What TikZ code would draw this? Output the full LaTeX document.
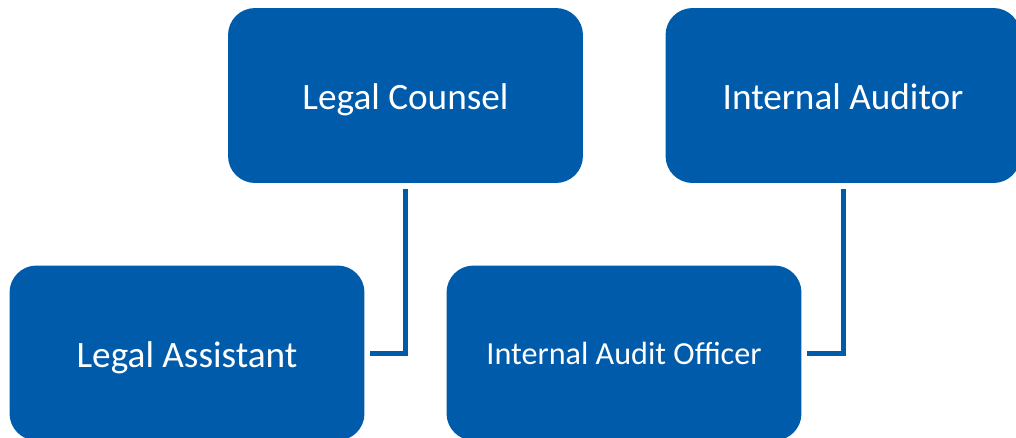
\documentclass[tikz,border=0pt]{standalone}
\usepackage{fontspec}
\setmainfont{Carlito}
\definecolor{boxblue}{RGB}{0,91,170}
\begin{document}
\begin{tikzpicture}[x=0.02cm,y=-0.02cm,
    role/.style={fill=boxblue,rounded corners=0.54cm,text=white,inner sep=0pt,
      minimum width=7.1cm,minimum height=3.5cm,font=\fontsize{21.2}{25}\selectfont,
      text height=16.4pt,text depth=0pt},
    small/.style={font=\fontsize{18.3}{22}\selectfont,text height=13.6pt},
    link/.style={draw=boxblue,line width=0.1cm,shorten <=3.5pt,shorten >=3pt}]
      \useasboundingbox (0,0) rectangle (1016,437);
      \clip (0,0) rectangle (1016,437);
      \draw
        (405.5,95.5) node[role] (lc){Legal Counsel}
        (843,95.5) node[role] (ia){Internal Auditor}
        (187,353) node[role] (la){Legal Assistant}
        (624,353) node[role,small] (iao){Internal Audit Officer};
      \begin{scope}[-]
        \draw[link] (lc.south) |- (la.east);
        \draw[link] (ia.south) |- (iao.east);
      \end{scope}
    \end{tikzpicture}
\end{document}
